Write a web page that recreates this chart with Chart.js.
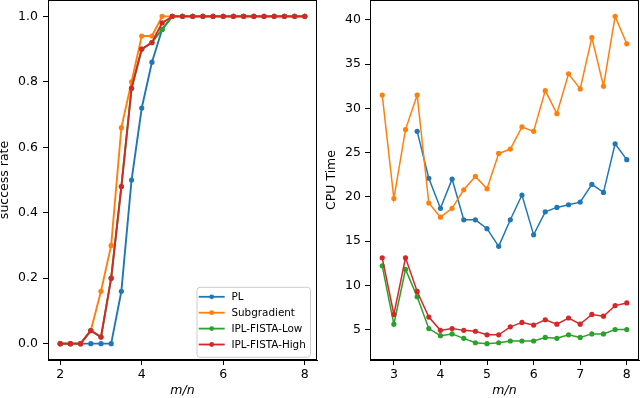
<!DOCTYPE html>
<html>
<head>
<meta charset="utf-8">
<script src="https://cdn.jsdelivr.net/npm/chart.js@4/dist/chart.umd.min.js"></script>
<style>
  body { margin: 0; background: #fff; }
  #wrap { position: relative; width: 640px; height: 398px; }
  canvas { position: absolute; top: 0; }
</style>
</head>
<body>
<div id="wrap">
  <canvas id="left" width="320" height="398" style="left:0"></canvas>
  <canvas id="right" width="320" height="398" style="left:320px"></canvas>
</div>
<script>
const seriesNames = ['PL', 'Subgradient', 'IPL-FISTA-Low', 'IPL-FISTA-High'];
const seriesColors = ['#1f77b4', '#ff7f0e', '#2ca02c', '#d62728'];

// success rate vs m/n (2 .. 8, step 0.25)
const ratioLeft = [2, 2.25, 2.5, 2.75, 3, 3.25, 3.5, 3.75, 4, 4.25, 4.5, 4.75, 5, 5.25, 5.5, 5.75, 6, 6.25, 6.5, 6.75, 7, 7.25, 7.5, 7.75, 8];
const ratePL   = [0, 0, 0, 0, 0, 0, 0.16, 0.5, 0.72, 0.86, 0.96, 1, 1, 1, 1, 1, 1, 1, 1, 1, 1, 1, 1, 1, 1];
const rateSub  = [0, 0, 0, 0.04, 0.16, 0.3, 0.66, 0.8, 0.94, 0.94, 1, 1, 1, 1, 1, 1, 1, 1, 1, 1, 1, 1, 1, 1, 1];
const rateLow  = [0, 0, 0, 0.04, 0.02, 0.2, 0.48, 0.78, 0.9, 0.92, 0.96, 1, 1, 1, 1, 1, 1, 1, 1, 1, 1, 1, 1, 1, 1];
const rateHigh = [0, 0, 0, 0.04, 0.02, 0.2, 0.48, 0.78, 0.9, 0.92, 0.98, 1, 1, 1, 1, 1, 1, 1, 1, 1, 1, 1, 1, 1, 1];

// CPU time vs m/n (2.75 .. 8, step 0.25)
const ratioRight = [2.75, 3, 3.25, 3.5, 3.75, 4, 4.25, 4.5, 4.75, 5, 5.25, 5.5, 5.75, 6, 6.25, 6.5, 6.75, 7, 7.25, 7.5, 7.75, 8];
const timePL   = [null, null, null, 27.4, 22.1, 18.7, 22.0, 17.4, 17.4, 16.4, 14.4, 17.4, 20.2, 15.7, 18.3, 18.8, 19.1, 19.4, 21.4, 20.5, 26.0, 24.2];
const timeSub  = [31.5, 19.8, 27.6, 31.5, 19.3, 17.7, 18.7, 20.8, 22.3, 20.9, 24.9, 25.4, 27.9, 27.4, 32.0, 29.4, 33.9, 32.2, 38.0, 32.5, 40.4, 37.3];
const timeLow  = [12.2, 5.6, 11.8, 8.7, 5.1, 4.3, 4.5, 4.0, 3.5, 3.4, 3.5, 3.7, 3.7, 3.7, 4.1, 4.0, 4.4, 4.1, 4.5, 4.5, 5.0, 5.0];
const timeHigh = [13.1, 6.7, 13.1, 9.3, 6.4, 4.9, 5.1, 4.9, 4.8, 4.4, 4.4, 5.3, 5.8, 5.5, 6.1, 5.6, 6.3, 5.6, 6.7, 6.5, 7.7, 8.0];

const ticksLeftX = [2, 4, 6, 8];
const ticksLeftY = [0, 0.2, 0.4, 0.6, 0.8, 1.0];
const ticksRightX = [3, 4, 5, 6, 7, 8];
const ticksRightY = [5, 10, 15, 20, 25, 30, 35, 40];

const FONT = { family: 'DejaVu Sans', size: 12.5 };

function points(xs, ys) {
  const out = [];
  xs.forEach((x, i) => { if (ys[i] !== null) out.push({ x: x, y: ys[i] }); });
  return out;
}

function makeDatasets(xs, seriesList, width) {
  // last series ends up on top, like matplotlib's plot order
  return seriesList.map((ys, i) => ({
    label: seriesNames[i],
    data: points(xs, ys),
    borderColor: seriesColors[i],
    backgroundColor: seriesColors[i],
    borderWidth: width,
    pointRadius: 2.6,
    pointBorderWidth: 0,
    pointHoverRadius: 2.6,
    tension: 0,
    order: seriesList.length - 1 - i
  }));
}

const frame = {
  id: 'frame',
  afterDraw(chart) {
    const a = chart.chartArea, ctx = chart.ctx;
    ctx.save();
    ctx.strokeStyle = '#000';
    ctx.lineWidth = 1;
    ctx.strokeRect(Math.round(a.left) + 0.5, Math.round(a.top) + 0.5,
      Math.round(a.right - a.left) - 1, Math.round(a.bottom - a.top) - 1);
    ctx.restore();
  }
};

const boxLegend = {
  id: 'boxLegend',
  afterDraw(chart) {
    const ctx = chart.ctx, a = chart.chartArea;
    const ds = chart.data.datasets;
    const w = 113.5, h = 70, rowH = 15.9;
    const x0 = a.right - 6.5 - w, y0 = a.bottom - 2.7 - h;
    ctx.save();
    ctx.fillStyle = 'rgba(255,255,255,0.8)';
    ctx.strokeStyle = '#cccccc';
    ctx.lineWidth = 1;
    ctx.beginPath();
    ctx.roundRect(x0, y0, w, h, 3);
    ctx.fill();
    ctx.stroke();
    ctx.font = '10.4px "DejaVu Sans"';
    ctx.textBaseline = 'middle';
    ds.forEach((d, i) => {
      const y = y0 + 9.5 + rowH * i;
      ctx.strokeStyle = d.borderColor;
      ctx.lineWidth = 1.8;
      ctx.beginPath();
      ctx.moveTo(x0 + 1.7, y);
      ctx.lineTo(x0 + 27.7, y);
      ctx.stroke();
      ctx.fillStyle = d.borderColor;
      ctx.beginPath();
      ctx.arc(x0 + 14.7, y, 2.4, 0, Math.PI * 2);
      ctx.fill();
      ctx.fillStyle = '#000';
      ctx.fillText(d.label, x0 + 34.4, y + 0.5);
    });
    ctx.restore();
  }
};

function axis(min, max, tickVals, titleText, isY, fitSize, tickPad, titlePad, fmt) {
  return {
    type: 'linear',
    min: min,
    max: max,
    afterBuildTicks: s => { s.ticks = tickVals.map(v => ({ value: v })); },
    afterFit: s => {
      if (isY) { s.width = fitSize; s.paddingTop = 0; s.paddingBottom = 0; }
      else { s.height = fitSize; s.paddingLeft = 0; s.paddingRight = 0; }
    },
    grid: { drawOnChartArea: false, drawTicks: true, tickLength: 5, color: '#000' },
    border: { display: true, color: '#000', width: 1 },
    ticks: { color: '#000', font: FONT, padding: tickPad, maxRotation: 0, autoSkip: false,
             callback: v => fmt(v) },
    title: { display: true, text: titleText, color: '#000',
             font: isY ? { family: 'DejaVu Sans', size: 12.5, lineHeight: 1 }
                       : { family: 'DejaVu Sans', size: 12.5, style: 'italic', lineHeight: 1 },
             padding: isY ? { top: titlePad, bottom: 0 } : { top: 0, bottom: titlePad } }
  };
}

function baseOptions(scales, pad) {
  return {
    responsive: false,
    animation: false,
    devicePixelRatio: 1,
    layout: { padding: pad, autoPadding: false },
    plugins: { legend: { display: false }, tooltip: { enabled: false } },
    scales: scales
  };
}

new Chart(document.getElementById('left'), {
  type: 'line',
  data: { datasets: makeDatasets(ratioLeft, [ratePL, rateSub, rateLow, rateHigh], 1.9) },
  options: baseOptions({
    x: axis(1.7, 8.3, ticksLeftX, 'm/n', false, 38, 2, 1, v => String(v)),
    y: axis(-0.05, 1.05, ticksLeftY, 'success rate', true, 48, 5, -1.5, v => v.toFixed(1))
  }, { left: 0, right: 3, top: 0, bottom: 0 }),
  plugins: [frame, boxLegend]
});

new Chart(document.getElementById('right'), {
  type: 'line',
  data: { datasets: makeDatasets(ratioRight, [timePL, timeSub, timeLow, timeHigh], 1.5) },
  options: baseOptions({
    x: axis(2.4875, 8.2625, ticksRightX, 'm/n', false, 38, 2, 1, v => String(v)),
    y: axis(1.55, 42.25, ticksRightY, 'CPU Time', true, 50, 4, 5.2, v => String(v))
  }, { left: 0, right: 1, top: 0, bottom: 0 }),
  plugins: [frame]
});
</script>
</body>
</html>
